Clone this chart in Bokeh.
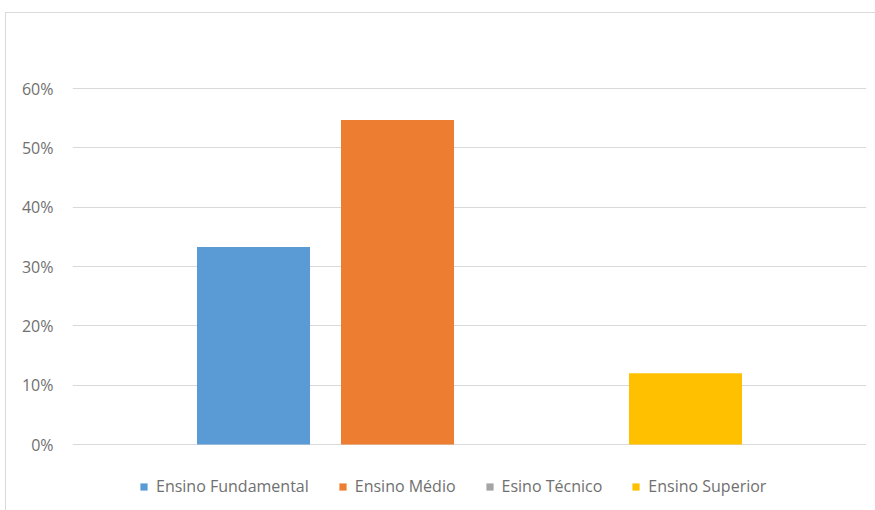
from bokeh.plotting import figure
from bokeh.models import (ColumnDataSource, FactorRange, Range1d, FixedTicker,
                          NumeralTickFormatter, Legend, LegendItem)
from bokeh.embed import file_html
from bokeh.resources import INLINE

# ---- data ----
categories = ["Ensino Fundamental", "Ensino Médio", "Esino Técnico", "Ensino Superior"]
values = [0.333, 0.547, 0.0, 0.120]
y_ticks = [0.0, 0.1, 0.2, 0.3, 0.4, 0.5, 0.6]

colors = ["#5B9BD5", "#ED7D31", "#A5A5A5", "#FFC000"]
text_color = "#707070"
font = "Open Sans"

source = ColumnDataSource(dict(cat=categories, val=values, color=colors))

# frame spans page y 87..505; value 0 sits at y=444, 0.6 at y=88
p = figure(width=870, height=498,
           x_range=FactorRange(*categories, range_padding=0.757,
                               range_padding_units="absolute"),
           y_range=Range1d(-0.1028, 0.6017),
           output_backend="svg", toolbar_location=None,
           min_border_left=66, min_border_right=10,
           min_border_top=74, min_border_bottom=6)
p.margin = (12, 0, 0, 5)
p.styles = {"border-top": "1px solid #d9d9d9", "border-left": "1px solid #d9d9d9"}

r = p.vbar(x="cat", top="val", bottom=0, width=0.785, fill_color="color",
           line_color=None, source=source)

p.outline_line_color = None
p.background_fill_color = "white"
p.border_fill_color = "white"

p.xaxis.visible = False
p.xgrid.visible = False

p.yaxis.ticker = FixedTicker(ticks=y_ticks)
p.yaxis.formatter = NumeralTickFormatter(format="0%")
p.yaxis.axis_line_color = None
p.yaxis.major_tick_line_color = None
p.yaxis.minor_tick_line_color = None
p.yaxis.major_tick_out = 0
p.yaxis.major_tick_in = 0
p.yaxis.major_label_standoff = 19
p.yaxis.major_label_text_font = font
p.yaxis.major_label_text_font_size = "16px"
p.yaxis.major_label_text_color = text_color

p.ygrid.ticker = FixedTicker(ticks=y_ticks)
p.ygrid.grid_line_color = "#d9d9d9"
p.ygrid.grid_line_width = 1

items = [LegendItem(label=c, renderers=[r], index=i) for i, c in enumerate(categories)]
legend = Legend(items=items, orientation="horizontal", location=(67, 8),
                glyph_width=9, glyph_height=9, label_standoff=8, spacing=29,
                padding=0, margin=0, border_line_color=None,
                background_fill_alpha=0,
                label_text_font=font, label_text_font_size="16px",
                label_text_color=text_color)
p.add_layout(legend)

open("out.html", "w").write(file_html(p, INLINE))
